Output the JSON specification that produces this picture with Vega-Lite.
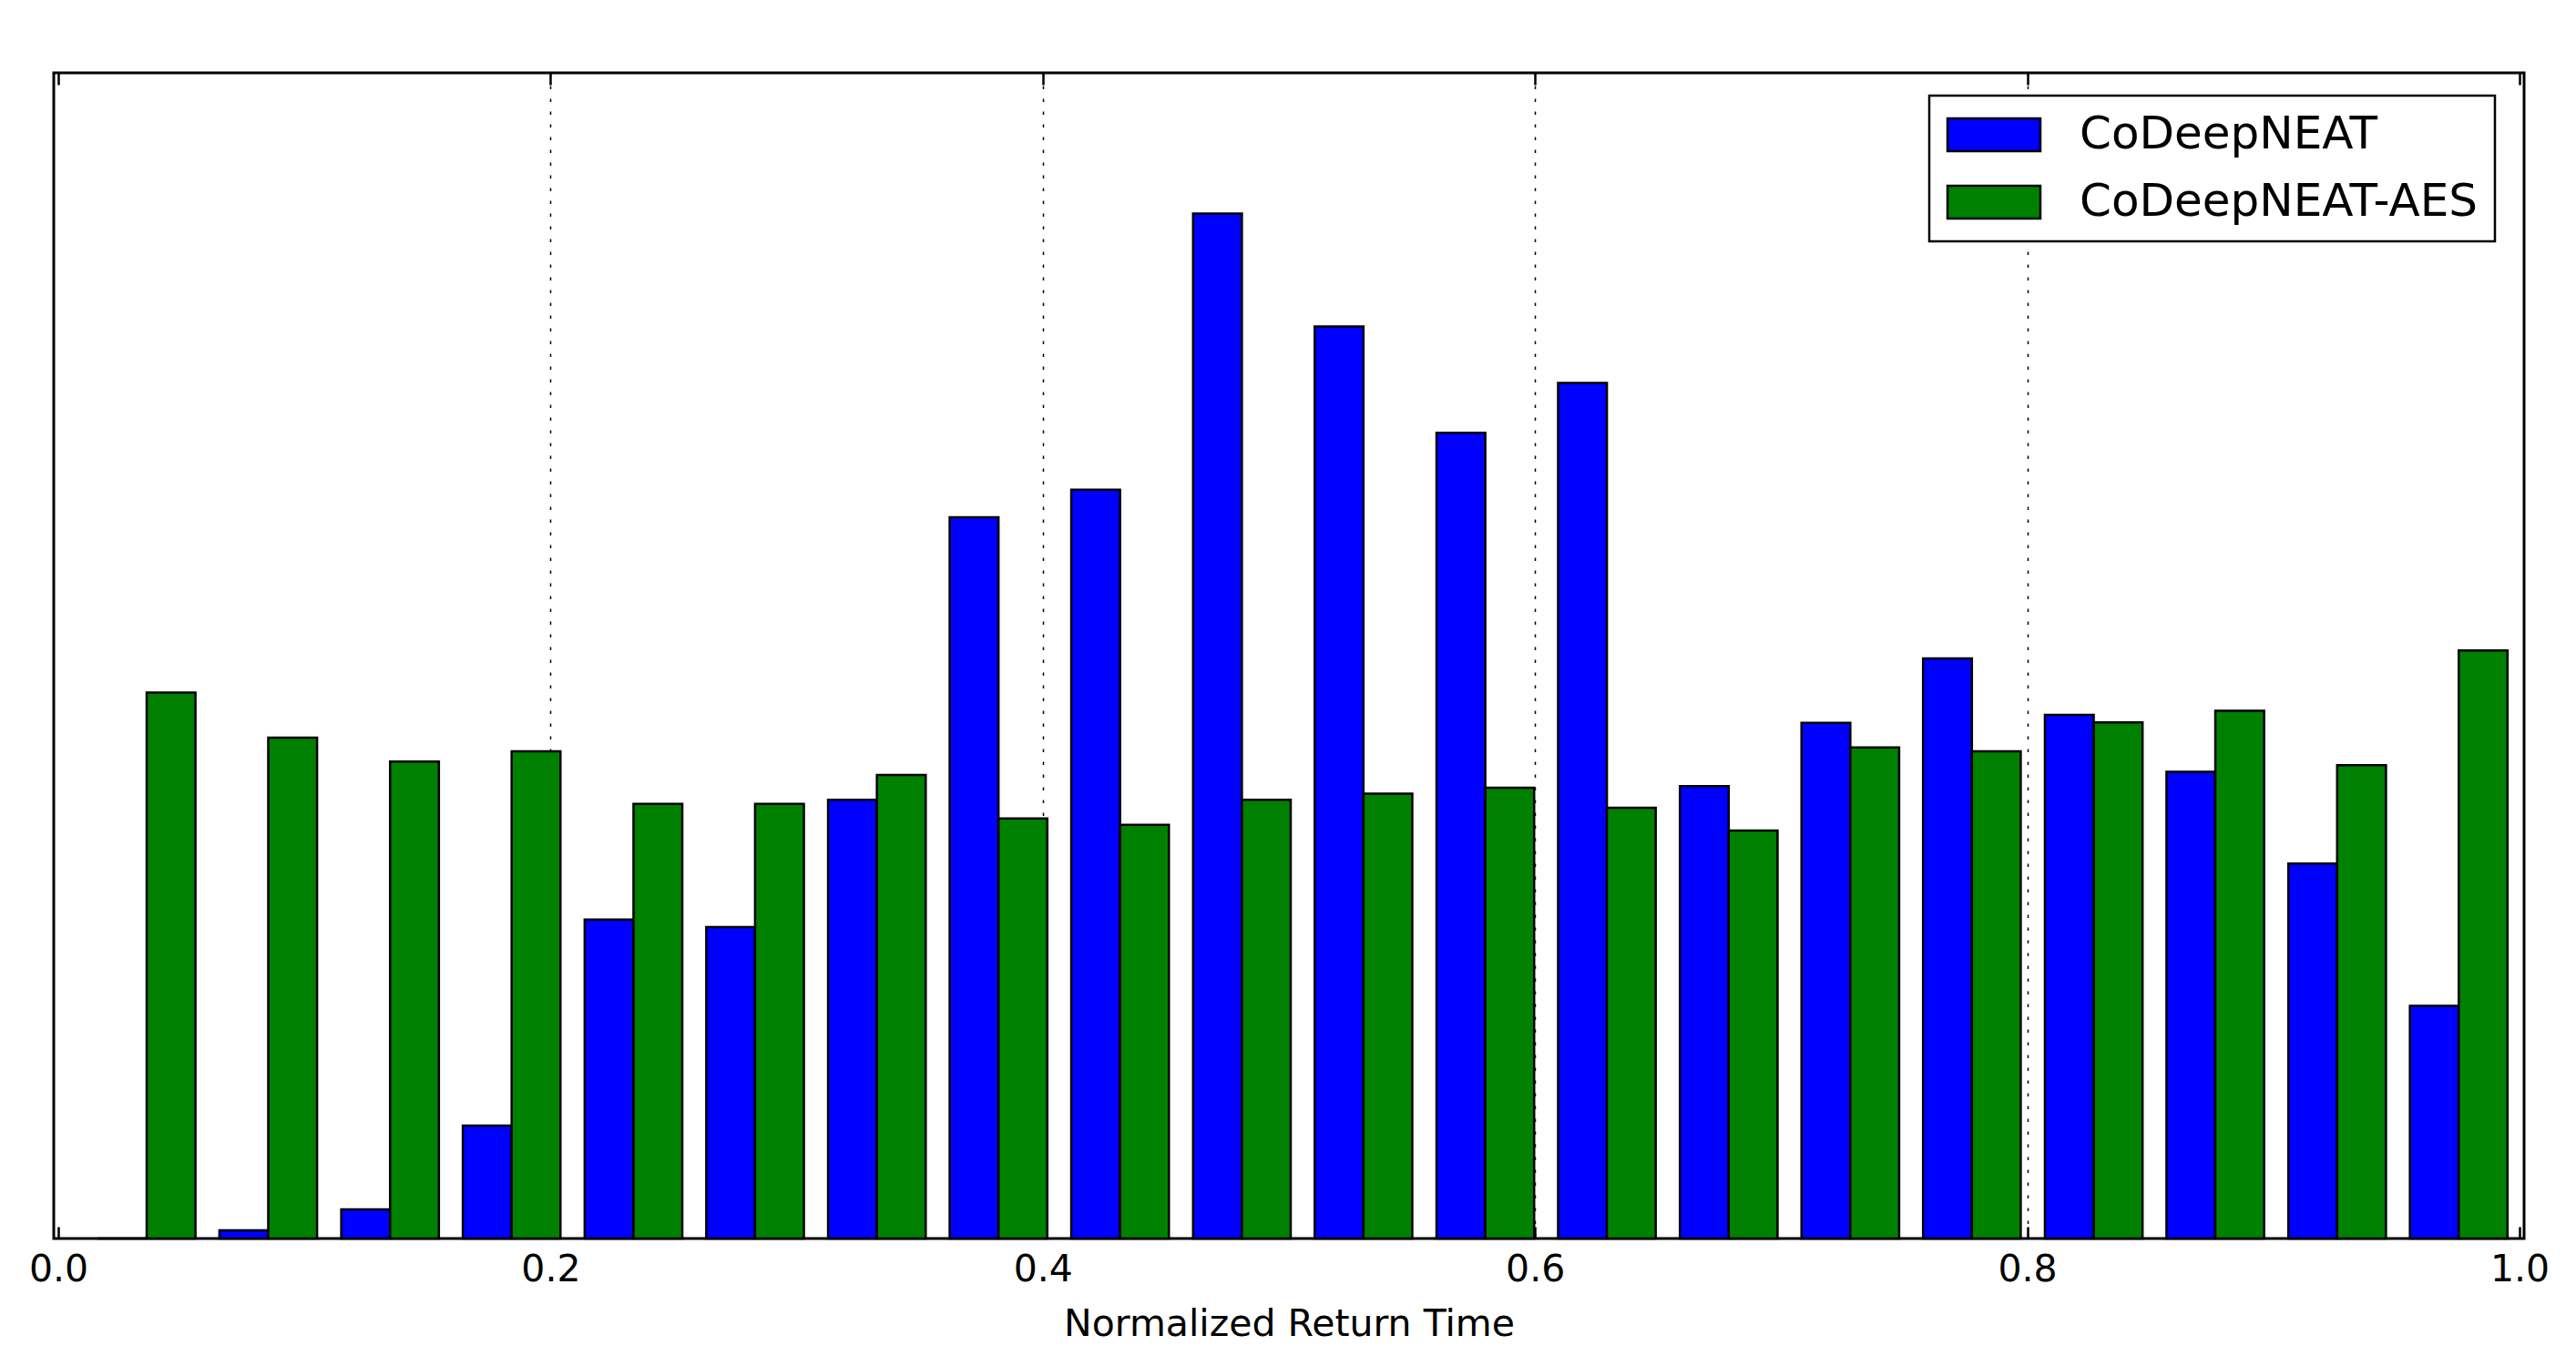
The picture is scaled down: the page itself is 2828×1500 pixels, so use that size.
{
  "$schema": "https://vega.github.io/schema/vega-lite/v6.json",
  "width": 2712,
  "height": 1280,
  "autosize": {"type": "none"},
  "padding": {"left": 59, "top": 80, "right": 57, "bottom": 140},
  "background": "white",
  "config": {
    "font": "DejaVu Sans",
    "view": {"stroke": "black", "strokeWidth": 3},
    "axis": {"labelFont": "DejaVu Sans", "titleFont": "DejaVu Sans", "labelColor": "black", "titleColor": "black"},
    "legend": {"labelFont": "DejaVu Sans"}
  },
  "data": {
    "values": [
      {"bin": 0.0359, "series": "CoDeepNEAT", "density": 0.0},
      {"bin": 0.0853, "series": "CoDeepNEAT", "density": 0.0176},
      {"bin": 0.1348, "series": "CoDeepNEAT", "density": 0.0625},
      {"bin": 0.1842, "series": "CoDeepNEAT", "density": 0.242},
      {"bin": 0.2337, "series": "CoDeepNEAT", "density": 0.684},
      {"bin": 0.2831, "series": "CoDeepNEAT", "density": 0.668},
      {"bin": 0.3326, "series": "CoDeepNEAT", "density": 0.941},
      {"bin": 0.3820, "series": "CoDeepNEAT", "density": 1.547},
      {"bin": 0.4314, "series": "CoDeepNEAT", "density": 1.606},
      {"bin": 0.4809, "series": "CoDeepNEAT", "density": 2.198},
      {"bin": 0.5303, "series": "CoDeepNEAT", "density": 1.956},
      {"bin": 0.5798, "series": "CoDeepNEAT", "density": 1.728},
      {"bin": 0.6292, "series": "CoDeepNEAT", "density": 1.835},
      {"bin": 0.6787, "series": "CoDeepNEAT", "density": 0.970},
      {"bin": 0.7281, "series": "CoDeepNEAT", "density": 1.106},
      {"bin": 0.7775, "series": "CoDeepNEAT", "density": 1.244},
      {"bin": 0.8270, "series": "CoDeepNEAT", "density": 1.123},
      {"bin": 0.8764, "series": "CoDeepNEAT", "density": 1.001},
      {"bin": 0.9259, "series": "CoDeepNEAT", "density": 0.804},
      {"bin": 0.9753, "series": "CoDeepNEAT", "density": 0.499},
      {"bin": 0.0359, "series": "CoDeepNEAT-AES", "density": 1.171},
      {"bin": 0.0853, "series": "CoDeepNEAT-AES", "density": 1.074},
      {"bin": 0.1348, "series": "CoDeepNEAT-AES", "density": 1.023},
      {"bin": 0.1842, "series": "CoDeepNEAT-AES", "density": 1.045},
      {"bin": 0.2337, "series": "CoDeepNEAT-AES", "density": 0.932},
      {"bin": 0.2831, "series": "CoDeepNEAT-AES", "density": 0.932},
      {"bin": 0.3326, "series": "CoDeepNEAT-AES", "density": 0.994},
      {"bin": 0.3820, "series": "CoDeepNEAT-AES", "density": 0.901},
      {"bin": 0.4314, "series": "CoDeepNEAT-AES", "density": 0.887},
      {"bin": 0.4809, "series": "CoDeepNEAT-AES", "density": 0.941},
      {"bin": 0.5303, "series": "CoDeepNEAT-AES", "density": 0.954},
      {"bin": 0.5798, "series": "CoDeepNEAT-AES", "density": 0.967},
      {"bin": 0.6292, "series": "CoDeepNEAT-AES", "density": 0.924},
      {"bin": 0.6787, "series": "CoDeepNEAT-AES", "density": 0.875},
      {"bin": 0.7281, "series": "CoDeepNEAT-AES", "density": 1.053},
      {"bin": 0.7775, "series": "CoDeepNEAT-AES", "density": 1.045},
      {"bin": 0.8270, "series": "CoDeepNEAT-AES", "density": 1.107},
      {"bin": 0.8764, "series": "CoDeepNEAT-AES", "density": 1.132},
      {"bin": 0.9259, "series": "CoDeepNEAT-AES", "density": 1.015},
      {"bin": 0.9753, "series": "CoDeepNEAT-AES", "density": 1.261}
    ]
  },
  "layer": [
    {
      "transform": [{"filter": "datum.series === 'CoDeepNEAT'"}],
      "mark": {"type": "bar", "width": 53.6, "xOffset": -26.8, "stroke": "black", "strokeWidth": 2.5, "opacity": 1},
      "encoding": {
        "x": {
          "field": "bin", "type": "quantitative",
          "scale": {"domain": [0, 1], "nice": false, "zero": false},
          "axis": {
            "orient": "bottom", "title": "Normalized Return Time", "values": [0, 0.2, 0.4, 0.6, 0.8, 1.0], "format": ".1f",
            "labelFontSize": 41, "titleFontSize": 41, "titleFontWeight": "normal",
            "domain": false, "tickColor": "black", "tickWidth": 2.5, "tickSize": -13,
            "labelPadding": 27, "titlePadding": 20,
            "grid": true, "gridColor": "black", "gridDash": [3.5, 10.5], "gridWidth": 1.5,
            "gridOpacity": {"condition": {"test": "datum.value <= 0 || datum.value >= 1", "value": 0}, "value": 1}
          }
        },
        "y": {"field": "density", "type": "quantitative", "scale": {"domain": [0, 2.5], "nice": false}, "axis": null},
        "color": {
          "field": "series", "type": "nominal",
          "scale": {"domain": ["CoDeepNEAT", "CoDeepNEAT-AES"], "range": ["#0000ff", "#008000"]},
          "legend": {
            "orient": "none", "legendX": 2059, "legendY": 25, "title": null,
            "strokeColor": "black", "fillColor": "white", "padding": 18,
            "symbolType": "M-2.833,-1H2.833V1H-2.833Z", "symbolSize": 1296, "symbolOffset": 28,
            "symbolStrokeColor": "black", "symbolStrokeWidth": 2.5, "symbolOpacity": 1,
            "labelFontSize": 50, "labelColor": "black", "labelOffset": 69, "labelLimit": 0, "rowPadding": 24,
            "encode": {"legend": {"update": {"strokeWidth": {"value": 2.5}}}}
          }
        }
      }
    },
    {
      "transform": [{"filter": "datum.series === 'CoDeepNEAT-AES'"}],
      "mark": {"type": "bar", "width": 53.6, "xOffset": 26.8, "stroke": "black", "strokeWidth": 2.5, "opacity": 1},
      "encoding": {
        "x": {
          "field": "bin", "type": "quantitative",
          "scale": {"domain": [0, 1], "nice": false, "zero": false},
          "axis": {
            "orient": "top", "title": null, "values": [0, 0.2, 0.4, 0.6, 0.8, 1.0],
            "labels": false, "domain": false, "grid": false,
            "tickColor": "black", "tickWidth": 2.5, "tickSize": -13
          }
        },
        "y": {"field": "density", "type": "quantitative", "scale": {"domain": [0, 2.5], "nice": false}, "axis": null},
        "color": {
          "field": "series", "type": "nominal",
          "scale": {"domain": ["CoDeepNEAT", "CoDeepNEAT-AES"], "range": ["#0000ff", "#008000"]}
        }
      }
    }
  ],
  "resolve": {"axis": {"x": "independent"}}
}
